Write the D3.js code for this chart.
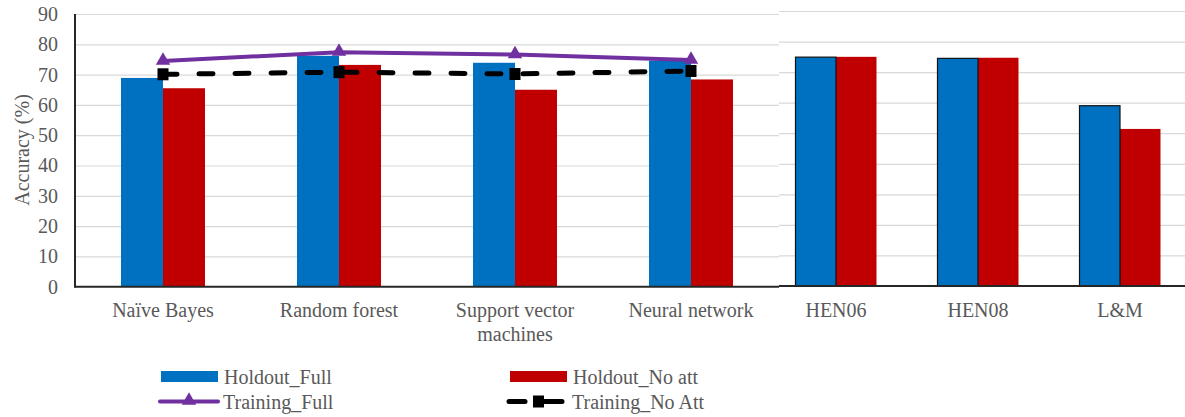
<!DOCTYPE html>
<html>
<head>
<meta charset="utf-8">
<script src="https://cdn.jsdelivr.net/npm/d3@7"></script>
<style>
  html, body { margin: 0; padding: 0; background: #fff; }
  svg { display: block; }
</style>
</head>
<body>
<svg id="chart" width="1185" height="417"></svg>
<script>
// ---- Data ----
const modelCategories = ["Naïve Bayes", "Random forest", "Support vector machines", "Neural network"];
const refCategories = ["HEN06", "HEN08", "L&M"];
const seriesNames = ["Holdout_Full", "Holdout_No att", "Training_Full", "Training_No Att"];

const holdoutFullModels = [68.9, 76.2, 73.9, 74.6];
const holdoutNoAttModels = [65.5, 73.2, 65.0, 68.4];
const trainingFull = [74.5, 77.4, 76.6, 74.8];
const trainingNoAtt = [70.1, 70.8, 70.2, 71.2];

const holdoutFullRef = [74.9, 74.5, 59.0];
const holdoutNoAttRef = [75.0, 74.7, 51.4];

const yTicks = [0, 10, 20, 30, 40, 50, 60, 70, 80, 90];

// ---- Layout ----
const FONT = "'Liberation Serif', 'Times New Roman', Times, serif";
const TXT = "#595959";
const svg = d3.select("#chart").attr("font-family", FONT);
const colors = { blue: "#0070C0", red: "#C00000", purple: "#7030A0", black: "#000000" };

function styleText(sel) {
  return sel.attr("font-family", FONT).style("font-family", FONT)
    .style("font-size", "20px").attr("fill", TXT);
}

// Left panel (model results)
const yL = d3.scaleLinear().domain([0, 90]).range([286.7, 14]);
const xL = d3.scaleBand().domain(modelCategories).range([75, 779]).padding(0);
const subL = d3.scaleBand().domain(seriesNames.slice(0, 2)).range([-42, 42]);

// Right panel (reference results)
const yR = d3.scaleLinear().domain([0, 90]).range([286, 11]);
const xR = d3.scaleBand().domain(refCategories).range([765, 1191]).padding(0);
const subR = d3.scaleBand().domain(seriesNames.slice(0, 2)).range([-40.5, 40.5]);

// Gridlines left
svg.append("g")
  .attr("transform", "translate(75,0)")
  .call(d3.axisLeft(yL).tickValues(yTicks.slice(1)).tickSize(-704).tickFormat(""))
  .call(g => g.select(".domain").remove())
  .call(g => g.selectAll("line").attr("stroke", "#d9d9d9").attr("stroke-width", 1.2));

// Gridlines right
svg.append("g")
  .attr("transform", "translate(779,0)")
  .call(d3.axisLeft(yR).tickValues(yTicks.slice(1)).tickSize(-406).tickFormat(""))
  .call(g => g.select(".domain").remove())
  .call(g => g.selectAll("line").attr("stroke", "#d9d9d9").attr("stroke-width", 1.2));

// Left bars
const leftData = modelCategories.map((c, i) => ({ c, vals: [holdoutFullModels[i], holdoutNoAttModels[i]] }));
const lg = svg.append("g");
leftData.forEach(d => {
  d.vals.forEach((v, j) => {
    const s = seriesNames[j];
    lg.append("rect")
      .attr("x", xL(d.c) + xL.bandwidth() / 2 + subL(s))
      .attr("width", subL.bandwidth())
      .attr("y", yL(v))
      .attr("height", yL(0) - yL(v))
      .attr("fill", j === 0 ? colors.blue : colors.red);
  });
});

// Right bars
const rightData = refCategories.map((c, i) => ({ c, vals: [holdoutFullRef[i], holdoutNoAttRef[i]] }));
const rg = svg.append("g");
rightData.forEach(d => {
  [1, 0].forEach(j => {
    const v = d.vals[j];
    const s = seriesNames[j];
    const r = rg.append("rect")
      .attr("x", xR(d.c) + xR.bandwidth() / 2 + subR(s))
      .attr("width", subR.bandwidth())
      .attr("y", yR(v))
      .attr("height", yR(0) - yR(v))
      .attr("fill", j === 0 ? colors.blue : colors.red);
    if (j === 0) r.attr("stroke", "#111").attr("stroke-width", 1.2);
  });
});

// Axis lines
svg.append("line").attr("x1", 75).attr("x2", 779).attr("y1", yL(0)).attr("y2", yL(0))
  .attr("stroke", "#262626").attr("stroke-width", 2);
svg.append("line").attr("x1", 779).attr("x2", 1185).attr("y1", yR(0)).attr("y2", yR(0))
  .attr("stroke", "#262626").attr("stroke-width", 2);
svg.append("line").attr("x1", 75).attr("x2", 75).attr("y1", yL(90)).attr("y2", yL(0) + 1)
  .attr("stroke", "#262626").attr("stroke-width", 2);

// Y tick labels
svg.append("g")
  .attr("transform", "translate(75,0)")
  .call(d3.axisLeft(yL).tickValues(yTicks).tickSize(0).tickPadding(17))
  .call(g => g.attr("font-family", FONT))
  .call(g => g.select(".domain").remove())
  .call(g => styleText(g.selectAll("text")));

// Y title
styleText(svg.append("text")
  .attr("transform", "translate(29,150) rotate(-90)")
  .attr("text-anchor", "middle"))
  .text("Accuracy (%)");

// X labels (left)
const labelLines = { "Support vector machines": ["Support vector", "machines"] };
modelCategories.forEach(c => {
  const lines = labelLines[c] || [c];
  const t = styleText(svg.append("text")
    .attr("x", xL(c) + xL.bandwidth() / 2)
    .attr("y", 317)
    .attr("text-anchor", "middle"));
  lines.forEach((ln, k) => {
    t.append("tspan").attr("x", xL(c) + xL.bandwidth() / 2).attr("dy", k === 0 ? 0 : 23.5).text(ln);
  });
});
refCategories.forEach(c => {
  styleText(svg.append("text")
    .attr("x", xR(c) + xR.bandwidth() / 2)
    .attr("y", 317)
    .attr("text-anchor", "middle"))
    .text(c);
});

// Lines
const cx = c => xL(c) + xL.bandwidth() / 2;
const line = d3.line().x(d => cx(d.c)).y(d => yL(d.v));
const tfData = modelCategories.map((c, i) => ({ c, v: trainingFull[i] }));
const tnData = modelCategories.map((c, i) => ({ c, v: trainingNoAtt[i] }));

svg.append("path").datum(tnData)
  .attr("d", line).attr("fill", "none")
  .attr("stroke", colors.black).attr("stroke-width", 5)
  .attr("stroke-linecap", "round").attr("stroke-dasharray", "14,22");
svg.selectAll(".sq").data(tnData).enter().append("rect")
  .attr("x", d => cx(d.c) - 5.5).attr("y", d => yL(d.v) - 6)
  .attr("width", 11).attr("height", 12).attr("fill", colors.black);

svg.append("path").datum(tfData)
  .attr("d", line).attr("fill", "none")
  .attr("stroke", colors.purple).attr("stroke-width", 4)
  .attr("stroke-linecap", "round");
const tri = d3.symbol().type(d3.symbolTriangle).size(90);
svg.selectAll(".tri").data(tfData).enter().append("path")
  .attr("d", tri)
  .attr("transform", d => `translate(${cx(d.c)},${yL(d.v) - 0.5})`)
  .attr("fill", colors.purple);

// Legend
const leg = svg.append("g");
const legItems = [
  { name: seriesNames[0], x: 161, y: 376.5, type: "rect", color: colors.blue },
  { name: seriesNames[1], x: 510, y: 376.5, type: "rect", color: colors.red },
  { name: seriesNames[2], x: 160, y: 401.5, type: "tri", color: colors.purple },
  { name: seriesNames[3], x: 509, y: 401.5, type: "sq", color: colors.black }
];
legItems.forEach(it => {
  if (it.type === "rect") {
    leg.append("rect").attr("x", it.x).attr("y", it.y - 5.5).attr("width", 57).attr("height", 11).attr("fill", it.color);
  } else if (it.type === "tri") {
    leg.append("line").attr("x1", it.x).attr("x2", it.x + 58).attr("y1", it.y).attr("y2", it.y)
      .attr("stroke", it.color).attr("stroke-width", 4).attr("stroke-linecap", "round");
    leg.append("path").attr("d", tri).attr("transform", `translate(${it.x + 29},${it.y - 1})`).attr("fill", it.color);
  } else {
    leg.append("line").attr("x1", it.x).attr("x2", it.x + 16).attr("y1", it.y).attr("y2", it.y)
      .attr("stroke", it.color).attr("stroke-width", 5).attr("stroke-linecap", "round");
    leg.append("line").attr("x1", it.x + 34).attr("x2", it.x + 53).attr("y1", it.y).attr("y2", it.y)
      .attr("stroke", it.color).attr("stroke-width", 5).attr("stroke-linecap", "round");
    leg.append("rect").attr("x", it.x + 24).attr("y", it.y - 6).attr("width", 11).attr("height", 12).attr("fill", it.color);
  }
  styleText(leg.append("text").attr("x", it.x + 63).attr("y", it.y + 7)).text(it.name);
});
</script>
</body>
</html>
